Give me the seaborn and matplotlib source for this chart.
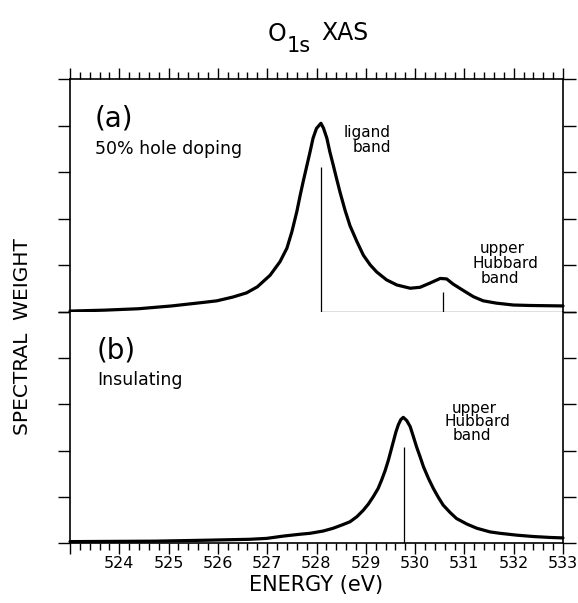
import matplotlib
matplotlib.use("Agg")
import matplotlib.pyplot as plt
import pandas as pd
import seaborn as sns
from matplotlib.ticker import MultipleLocator

sns.set_theme(style="ticks", rc={"axes.edgecolor": "black", "axes.linewidth": 1.2,
                                 "xtick.color": "black", "ytick.color": "black",
                                 "text.color": "black", "axes.labelcolor": "black"})
plt.rcParams['font.family'] = ['DejaVu Sans']

# ---- data ----
energy_a = [523.00, 523.71, 524.39, 525.06, 525.74, 525.98, 526.30, 526.58, 526.80,
            527.06, 527.26, 527.40, 527.50, 527.60, 527.67, 527.73, 527.80, 527.87,
            527.93, 528.00, 528.09, 528.14, 528.21, 528.27, 528.34, 528.41, 528.48,
            528.58, 528.68, 528.82, 528.95, 529.09, 529.22, 529.42, 529.63, 529.90,
            530.10, 530.30, 530.51, 530.64, 530.77, 530.98, 531.18, 531.38, 531.65,
            531.99, 532.33, 533.00]
weight_a = [0.02, 0.04, 0.07, 0.13, 0.21, 0.24, 0.32, 0.41, 0.54,
            0.79, 1.08, 1.37, 1.72, 2.15, 2.51, 2.80, 3.12, 3.44,
            3.73, 3.94, 4.05, 3.95, 3.73, 3.44, 3.15, 2.85, 2.56,
            2.18, 1.85, 1.51, 1.22, 1.01, 0.86, 0.69, 0.58, 0.51,
            0.53, 0.62, 0.72, 0.71, 0.60, 0.46, 0.33, 0.24, 0.19,
            0.15, 0.14, 0.13]

energy_b = [523.00, 524.72, 525.74, 526.64, 526.99, 527.33, 527.67, 527.87, 528.14,
            528.34, 528.54, 528.68, 528.82, 528.95, 529.05, 529.15, 529.25, 529.32,
            529.39, 529.46, 529.50, 529.56, 529.61, 529.66, 529.71, 529.76, 529.83,
            529.90, 529.96, 530.03, 530.10, 530.17, 530.27, 530.37, 530.47, 530.57,
            530.71, 530.84, 531.05, 531.25, 531.52, 531.72, 532.06, 532.40, 532.74,
            533.00]
weight_b = [0.03, 0.04, 0.06, 0.08, 0.10, 0.15, 0.19, 0.21, 0.26,
            0.32, 0.40, 0.46, 0.57, 0.71, 0.84, 1.00, 1.18, 1.36,
            1.56, 1.80, 1.96, 2.20, 2.40, 2.56, 2.67, 2.72, 2.65,
            2.52, 2.32, 2.08, 1.87, 1.65, 1.40, 1.18, 0.99, 0.82,
            0.66, 0.53, 0.41, 0.32, 0.24, 0.21, 0.17, 0.14, 0.12,
            0.11]

sticks_a_energy = [528.09, 530.56]
sticks_a_height = [3.11, 0.43]
sticks_b_energy = [529.77]
sticks_b_height = [2.08]

xtick_values = list(range(523, 534))
xtick_labels = [''] + [str(v) for v in range(524, 534)]
ytick_values = [0, 1, 2, 3, 4, 5]

# ---- layout ----
W, H = 578, 603
fig = plt.figure(figsize=(W / 100, H / 100), dpi=100)


def fx(px):
    return px / W


def fy(py):
    return 1 - py / H


L, R = 70, 563
ax_a = fig.add_axes([fx(L), fy(312), fx(R) - fx(L), fy(79) - fy(312)])
ax_b = fig.add_axes([fx(L), fy(543), fx(R) - fx(L), fy(312) - fy(543)])

df_a = pd.DataFrame({"energy": energy_a, "weight": weight_a})
df_b = pd.DataFrame({"energy": energy_b, "weight": weight_b})
sns.lineplot(data=df_a, x="energy", y="weight", ax=ax_a, color="black",
             linewidth=2.3, errorbar=None, clip_on=False)
sns.lineplot(data=df_b, x="energy", y="weight", ax=ax_b, color="black",
             linewidth=2.3, errorbar=None, clip_on=False)

ax_a.vlines(sticks_a_energy, 0, sticks_a_height, color="black", lw=0.9, clip_on=False)
ax_a.hlines(0, sticks_a_energy[0], 533, color="black", lw=0.9, clip_on=False)
ax_b.vlines(sticks_b_energy, 0, sticks_b_height, color="black", lw=0.9, clip_on=False)

for ax in (ax_a, ax_b):
    ax.set_xlim(523, 533)
    ax.set_ylim(0, 5)
    ax.set_xticks(xtick_values)
    ax.xaxis.set_minor_locator(MultipleLocator(0.2))
    ax.set_yticks(ytick_values)
    ax.set_yticklabels([])
    ax.set_xlabel("")
    ax.set_ylabel("")
    ax.tick_params(axis="y", which="major", direction="out", left=True, right=True,
                   length=9, width=1.0)
    ax.tick_params(axis="x", which="major", direction="out", length=8, width=1.0)
    ax.tick_params(axis="x", which="minor", direction="out", length=5, width=1.0)
    ax.set_facecolor("white")

ax_a.spines["bottom"].set_visible(False)
ax_b.spines["top"].set_visible(False)
ax_a.tick_params(axis="x", which="both", top=True, bottom=False,
                 labelbottom=False, labeltop=False)
ax_b.tick_params(axis="x", which="both", top=False, bottom=True,
                 labelbottom=True, labelsize=11.5, pad=1.5, labelcolor="black")
ax_b.set_xticklabels(xtick_labels)

# ---- texts ----
fig.text(fx(268), fy(41), "O", fontsize=17, ha="left", va="baseline")
fig.text(fx(287), fy(52), "1s", fontsize=15, ha="left", va="baseline")
fig.text(fx(321), fy(40), "XAS", fontsize=17, ha="left", va="baseline")

fig.text(fx(95), fy(127), "(a)", fontsize=20, ha="left", va="baseline")
fig.text(fx(95), fy(154), "50% hole doping", fontsize=12.5, ha="left", va="baseline")
fig.text(fx(97), fy(359), "(b)", fontsize=20, ha="left", va="baseline")
fig.text(fx(97), fy(385), "Insulating", fontsize=12.5, ha="left", va="baseline")

fig.text(fx(391), fy(137.5), "ligand", fontsize=11, ha="right", va="baseline")
fig.text(fx(391), fy(152.5), "band", fontsize=11, ha="right", va="baseline")

fig.text(fx(480), fy(253), "upper", fontsize=11, ha="left", va="baseline")
fig.text(fx(473), fy(268.5), "Hubbard", fontsize=11, ha="left", va="baseline")
fig.text(fx(481), fy(283), "band", fontsize=11, ha="left", va="baseline")

fig.text(fx(452), fy(412.5), "upper", fontsize=11, ha="left", va="baseline")
fig.text(fx(445), fy(426.5), "Hubbard", fontsize=11, ha="left", va="baseline")
fig.text(fx(453), fy(440.5), "band", fontsize=11, ha="left", va="baseline")

fig.text(fx(23), fy(337), "SPECTRAL  WEIGHT", fontsize=14.5, rotation=90,
         ha="center", va="center")
fig.text(fx(316), fy(585), "ENERGY (eV)", fontsize=15, ha="center", va="center")

fig.savefig("out.png", dpi=100, facecolor="white")
